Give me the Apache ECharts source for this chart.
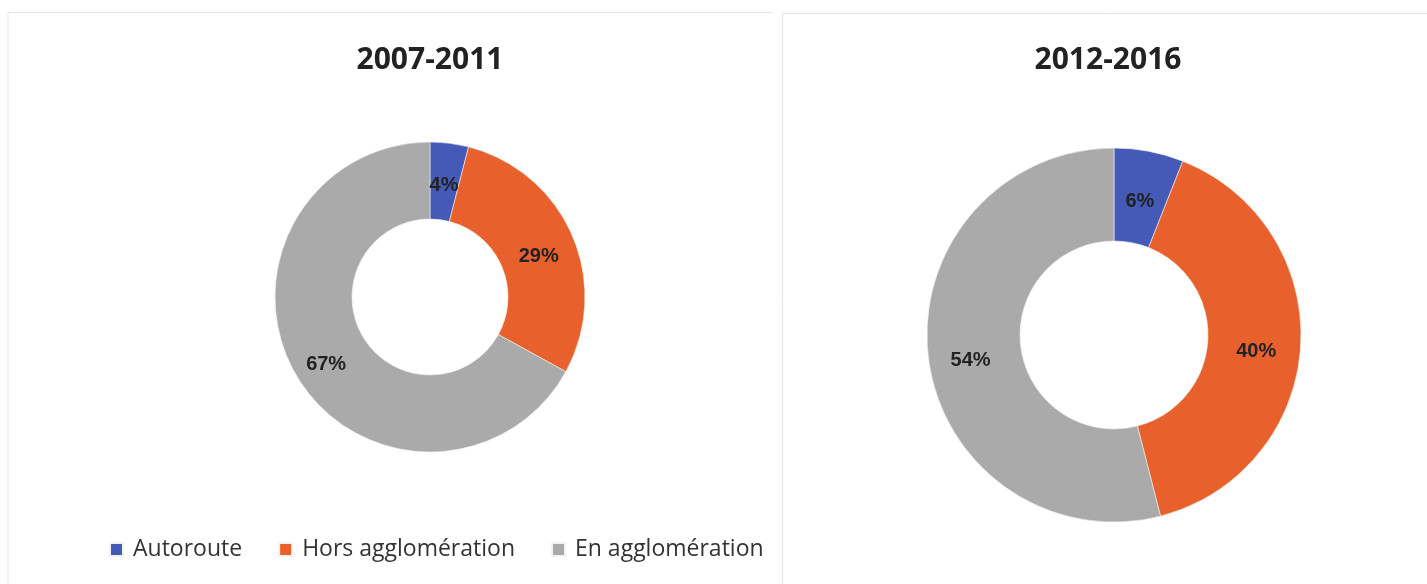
<!DOCTYPE html>
<html>
<head>
<meta charset="utf-8">
<title>Répartition</title>
<script src="https://cdn.jsdelivr.net/npm/echarts@6/dist/echarts.min.js"></script>
<style>
  html, body { margin: 0; padding: 0; background: #fff; }
  #chart { width: 1427px; height: 584px; }
</style>
</head>
<body>
<div id="chart"></div>
<script>
// catégories et valeurs (%)
const categories = ['Autoroute', 'Hors agglomération', 'En agglomération']
const periods = ['2007-2011', '2012-2016']
const values2007 = [4, 29, 67]
const values2012 = [6, 40, 54]
const colors = ['#4559b6', '#e8612c', '#aaaaaa']

const chart = echarts.init(document.getElementById('chart'))

// construit une série donut
const makePie = (name, values, center, radius) => ({
  name: name,
  type: 'pie',
  center: center,
  radius: radius,
  startAngle: 90,
  clockwise: true,
  silent: true,
  itemStyle: {
    borderColor: '#f2f2f2',
    borderWidth: 0.6
  },
  label: {
    show: true,
    position: 'inside',
    formatter: '{c}%',
    fontFamily: 'Liberation Sans',
    fontWeight: 'bold',
    fontSize: 20,
    color: '#222',
    offset: [-1, 7]
  },
  labelLine: { show: false },
  data: categories.map((c, i) => ({ name: c, value: values[i] }))
})

const titleStyle = { fontFamily: 'Open Sans', fontWeight: 'bold', fontSize: 30, color: '#222' }

const option = {
  color: colors,
  animation: false,
  title: [
    { text: periods[0], left: 425, top: 40, textAlign: 'center', textStyle: titleStyle },
    { text: periods[1], left: 1103, top: 40, textAlign: 'center', textStyle: titleStyle }
  ],
  legend: {
    data: categories,
    left: 104,
    top: 533,
    icon: 'rect',
    itemWidth: 13,
    itemHeight: 13,
    itemGap: 36,
    selectedMode: false,
    textStyle: {
      fontFamily: 'Open Sans',
      fontSize: 23,
      color: '#333',
      padding: [0, 0, 0, 5]
    }
  },
  // cadres gris clair des deux panneaux
  graphic: [
    {
      type: 'polyline',
      silent: true,
      shape: { points: [[8, 600], [8, 12.5], [773, 12.5]] },
      style: { stroke: '#e4e4e4', lineWidth: 1, fill: null }
    },
    {
      type: 'polyline',
      silent: true,
      shape: { points: [[782.5, 600], [782.5, 13.5], [1430, 13.5]] },
      style: { stroke: '#e4e4e4', lineWidth: 1, fill: null }
    }
  ],
  series: [
    makePie(periods[0], values2007, [430, 297], [78, 155]),
    makePie(periods[1], values2012, [1114, 335], [94, 187])
  ]
}

chart.setOption(option)
</script>
</body>
</html>
